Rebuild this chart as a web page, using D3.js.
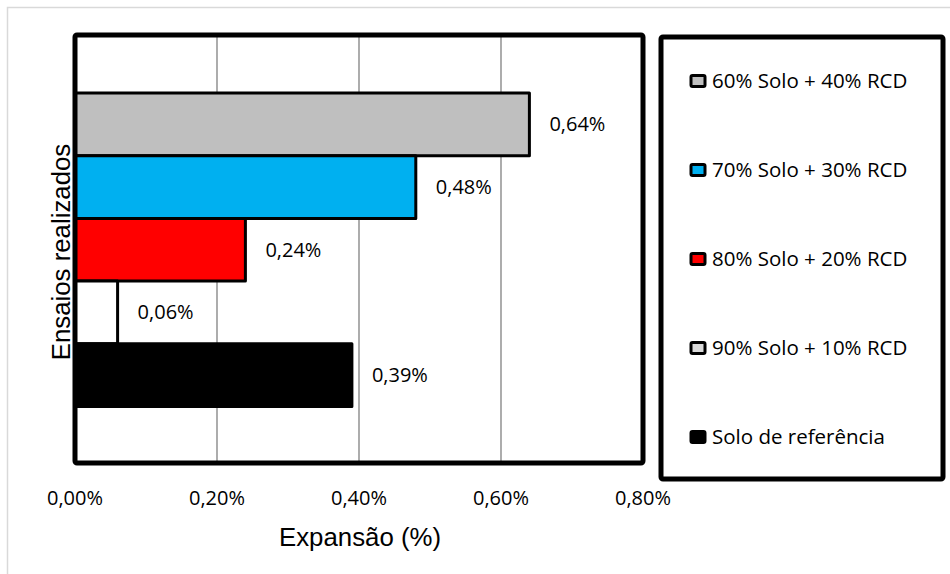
<!DOCTYPE html>
<html>
<head>
<meta charset="utf-8">
<script src="https://cdn.jsdelivr.net/npm/d3@7"></script>
<style>
  body { margin: 0; background: #fff; }
</style>
</head>
<body>
<script>
const width = 950;
const height = 574;

// series, top to bottom
const seriesNames = [
  "60% Solo + 40% RCD",
  "70% Solo + 30% RCD",
  "80% Solo + 20% RCD",
  "90% Solo + 10% RCD",
  "Solo de referência"
];
const values = [0.64, 0.48, 0.24, 0.06, 0.39];
const valueLabels = ["0,64%", "0,48%", "0,24%", "0,06%", "0,39%"];
const colors = ["#bfbfbf", "#00b0f0", "#ff0000", "#ffffff", "#000000"];
const legendFills = ["#bfbfbf", "#00b0f0", "#ff0000", "#d9d9d9", "#000000"];
const xTicks = [0, 0.2, 0.4, 0.6, 0.8];
const xTickLabels = ["0,00%", "0,20%", "0,40%", "0,60%", "0,80%"];

const marginLeft = 75;
const marginTop = 35;
const plotRight = 643;
const plotBottom = 463;

const labelFont = "'Open Sans', sans-serif";
const titleFont = "'Liberation Sans', Arial, sans-serif";

const svg = d3.select("body")
  .append("svg")
  .attr("width", width)
  .attr("height", height)
  .attr("viewBox", [0, 0, width, height]);

// outer chart frame
svg.append("rect")
  .attr("x", 7.5)
  .attr("y", 7.5)
  .attr("width", 960)
  .attr("height", 600)
  .attr("fill", "#fff")
  .attr("stroke", "#d9d9d9")
  .attr("stroke-width", 1.5);

const xScale = d3.scaleLinear([0, 0.8], [marginLeft, plotRight]);
const yScale = d3.scaleBand(d3.range(seriesNames.length), [marginTop + 1.5, plotBottom])
  .paddingOuter(0.9)
  .paddingInner(0);

// gridlines
svg.append("g")
  .attr("stroke", "#808080")
  .attr("stroke-width", 1.3)
  .selectAll("line")
  .data(xTicks.slice(1, -1))
  .join("line")
  .attr("x1", d => xScale(d))
  .attr("x2", d => xScale(d))
  .attr("y1", marginTop)
  .attr("y2", plotBottom);

// bars
svg.append("g")
  .attr("stroke", "#000")
  .attr("stroke-width", 3)
  .attr("stroke-linejoin", "round")
  .selectAll("rect")
  .data(d3.range(values.length))
  .join("rect")
  .attr("x", xScale(0))
  .attr("y", i => yScale(i))
  .attr("width", i => xScale(values[i]) - xScale(0))
  .attr("height", yScale.bandwidth())
  .attr("fill", i => colors[i]);

// value labels
svg.append("g")
  .attr("font-family", labelFont)
  .attr("font-size", 20)
  .attr("fill", "#000")
  .selectAll("text")
  .data(d3.range(values.length))
  .join("text")
  .attr("x", i => xScale(values[i]) + 20)
  .attr("y", i => yScale(i) + yScale.bandwidth() / 2)
  .attr("dy", "0.35em")
  .text(i => valueLabels[i]);

// plot frame
svg.append("rect")
  .attr("x", marginLeft)
  .attr("y", marginTop)
  .attr("width", plotRight - marginLeft)
  .attr("height", plotBottom - marginTop)
  .attr("fill", "none")
  .attr("stroke", "#000")
  .attr("stroke-width", 5)
  .attr("rx", 2);

// x tick labels
svg.append("g")
  .attr("font-family", labelFont)
  .attr("font-size", 20)
  .attr("text-anchor", "middle")
  .selectAll("text")
  .data(d3.range(xTicks.length))
  .join("text")
  .attr("x", i => xScale(xTicks[i]))
  .attr("y", 505)
  .text(i => xTickLabels[i]);

// axis titles
svg.append("text")
  .attr("x", 360)
  .attr("y", 546)
  .attr("text-anchor", "middle")
  .attr("font-family", titleFont)
  .attr("font-size", 25.8)
  .text("Expansão (%)");

svg.append("text")
  .attr("transform", "translate(70, 252) rotate(-90)")
  .attr("text-anchor", "middle")
  .attr("font-family", titleFont)
  .attr("font-size", 25.8)
  .text("Ensaios realizados");

// legend
const legend = svg.append("g");
legend.append("rect")
  .attr("x", 661)
  .attr("y", 37)
  .attr("width", 282)
  .attr("height", 442)
  .attr("fill", "#fff")
  .attr("stroke", "#000")
  .attr("stroke-width", 5)
  .attr("rx", 2);

const legendY = d3.scalePoint(d3.range(seriesNames.length), [81, 437]);

const items = legend.selectAll("g.item")
  .data(d3.range(seriesNames.length))
  .join("g")
  .attr("class", "item")
  .attr("transform", i => `translate(691, ${legendY(i)})`);

items.append("rect")
  .attr("x", 0)
  .attr("y", -5.5)
  .attr("width", 14)
  .attr("height", 11)
  .attr("rx", 1.5)
  .attr("fill", i => legendFills[i])
  .attr("stroke", "#000")
  .attr("stroke-width", 3);

items.append("text")
  .attr("x", 21)
  .attr("dy", "0.35em")
  .attr("font-family", labelFont)
  .attr("font-size", 20.5)
  .text(i => seriesNames[i]);
</script>
</body>
</html>
